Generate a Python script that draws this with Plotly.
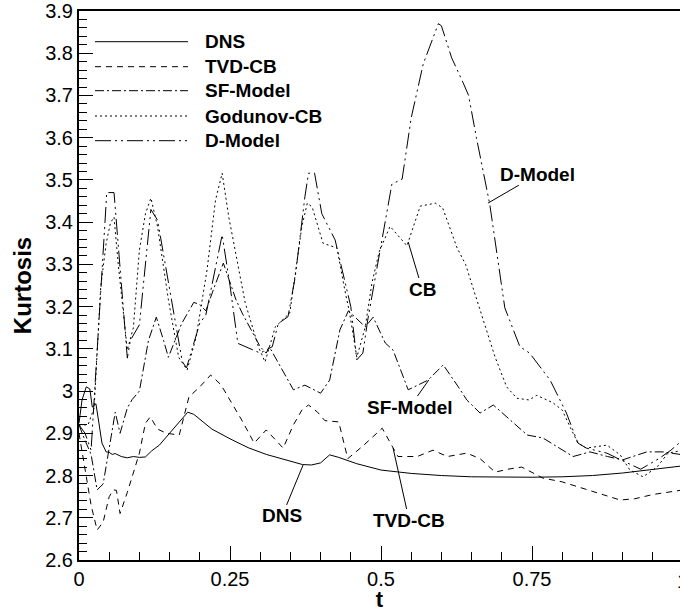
import plotly.graph_objects as go

# ---------------- data ----------------
t_dns = [0, 0.005, 0.012, 0.018, 0.022, 0.028, 0.033, 0.038, 0.045, 0.05, 0.055, 0.06, 0.07,
         0.08, 0.09, 0.1, 0.11, 0.12, 0.133, 0.15, 0.165, 0.18, 0.19, 0.22, 0.25, 0.28, 0.31,
         0.34, 0.37, 0.385, 0.4, 0.415, 0.43, 0.46, 0.5, 0.55, 0.6, 0.65, 0.7, 0.75, 0.8,
         0.85, 0.9, 0.95, 1.0]
k_dns = [2.924, 2.979, 3.01, 3.005, 2.962, 2.97, 2.924, 2.877, 2.856, 2.855, 2.85, 2.852, 2.845,
         2.842, 2.845, 2.843, 2.844, 2.858, 2.872, 2.9, 2.925, 2.95, 2.945, 2.91, 2.887, 2.866, 2.85,
         2.838, 2.826, 2.825, 2.83, 2.849, 2.843, 2.828, 2.813, 2.805, 2.8, 2.797, 2.796, 2.796, 2.797,
         2.8, 2.806, 2.814, 2.823]

t_tvd = [0, 0.01, 0.02, 0.03, 0.04, 0.05, 0.057, 0.062, 0.068, 0.08, 0.1, 0.11, 0.118, 0.13,
         0.145, 0.166, 0.182, 0.2, 0.218, 0.235, 0.248, 0.27, 0.29, 0.31, 0.338, 0.355, 0.369,
         0.38, 0.395, 0.407, 0.43, 0.445, 0.47, 0.502, 0.528, 0.56, 0.586, 0.61, 0.642, 0.664,
         0.689, 0.71, 0.733, 0.768, 0.8, 0.835, 0.87, 0.896, 0.92, 0.95, 1.0]
k_tvd = [2.9, 2.82, 2.73, 2.671, 2.69, 2.75, 2.766, 2.765, 2.71, 2.76, 2.853, 2.924, 2.939, 2.91,
         2.9, 2.896, 2.986, 3.01, 3.038, 3.015, 2.983, 2.93, 2.877, 2.908, 2.865, 2.92, 2.955,
         2.967, 2.95, 2.93, 2.927, 2.84, 2.87, 2.912, 2.845, 2.845, 2.86, 2.845, 2.853, 2.84,
         2.808, 2.815, 2.82, 2.794, 2.785, 2.77, 2.755, 2.742, 2.745, 2.755, 2.766]

t_sf = [0, 0.008, 0.02, 0.03, 0.04, 0.05, 0.06, 0.068, 0.08, 0.088, 0.1, 0.115, 0.128, 0.14,
        0.148, 0.17, 0.19, 0.2, 0.21, 0.225, 0.239, 0.26, 0.27, 0.3, 0.31, 0.315, 0.345, 0.355,
        0.374, 0.4, 0.415, 0.432, 0.446, 0.474, 0.487, 0.507, 0.52, 0.545, 0.578, 0.603, 0.628,
        0.642, 0.664, 0.686, 0.742, 0.768, 0.818, 0.846, 0.875, 0.9, 0.94, 0.967, 1.0]
k_sf = [2.92, 2.89, 2.85, 2.766, 2.78, 2.87, 2.95, 2.9, 2.96, 2.98, 3.0, 3.12, 3.175, 3.12,
        3.08, 3.16, 3.21, 3.205, 3.19, 3.25, 3.303, 3.216, 3.185, 3.105, 3.09, 3.105, 3.026, 3.003,
        3.014, 2.995, 3.026, 3.145, 3.19, 3.152, 3.175, 3.114, 3.097, 3.003, 3.026, 3.062, 3.01,
        2.979, 2.948, 2.967, 2.896, 2.889, 2.845, 2.856, 2.845, 2.837, 2.856, 2.856, 2.849]

t_god = [0, 0.015, 0.025, 0.03, 0.036, 0.045, 0.052, 0.058, 0.065, 0.08, 0.09, 0.1, 0.11, 0.119,
         0.13, 0.148, 0.165, 0.179, 0.194, 0.212, 0.226, 0.237, 0.248, 0.275, 0.297, 0.308, 0.325,
         0.349, 0.369, 0.378, 0.386, 0.404, 0.427, 0.44, 0.448, 0.46, 0.474, 0.485, 0.497, 0.515,
         0.543, 0.565, 0.59, 0.602, 0.626, 0.64, 0.656, 0.669, 0.689, 0.708, 0.725, 0.745, 0.758,
         0.785, 0.8, 0.813, 0.826, 0.84, 0.874, 0.896, 0.912, 0.934, 0.957, 0.975, 1.0]
k_god = [2.92, 2.92, 2.96, 3.1, 3.247, 3.35, 3.398, 3.412, 3.3, 3.097, 3.15, 3.334, 3.42, 3.457,
         3.39, 3.216, 3.08, 3.05, 3.128, 3.287, 3.452, 3.516, 3.412, 3.21, 3.105, 3.069, 3.152,
         3.185, 3.39, 3.445, 3.436, 3.35, 3.339, 3.24, 3.185, 3.08, 3.152, 3.256, 3.33, 3.39,
         3.344, 3.438, 3.445, 3.434, 3.339, 3.3, 3.23, 3.168, 3.08, 3.01, 2.983, 2.979, 2.99,
         2.972, 2.955, 2.915, 2.877, 2.865, 2.872, 2.849, 2.813, 2.797, 2.82, 2.853, 2.86]

t_dm = [0, 0.01, 0.02, 0.03, 0.046, 0.058, 0.062, 0.08, 0.085, 0.1, 0.119, 0.13, 0.171, 0.178,
        0.2, 0.21, 0.237, 0.25, 0.263, 0.3, 0.32, 0.33, 0.346, 0.358, 0.374, 0.38, 0.39, 0.402,
        0.424, 0.45, 0.46, 0.47, 0.478, 0.498, 0.518, 0.535, 0.55, 0.57, 0.595, 0.6, 0.617, 0.636,
        0.645, 0.658, 0.68, 0.705, 0.73, 0.746, 0.78, 0.807, 0.826, 0.84, 0.874, 0.9, 0.93, 0.96,
        0.98, 1.0]
k_dm = [2.92, 2.9, 2.86, 3.1, 3.47, 3.47, 3.4, 3.078, 3.12, 3.157, 3.43, 3.405, 3.07, 3.055,
        3.161, 3.18, 3.37, 3.25, 3.113, 3.09, 3.105, 3.16, 3.176, 3.27, 3.46, 3.516, 3.516, 3.42,
        3.358, 3.2, 3.074, 3.09, 3.168, 3.332, 3.49, 3.502, 3.647, 3.775, 3.87, 3.865, 3.789, 3.73,
        3.7, 3.6, 3.443, 3.197, 3.105, 3.09, 3.026, 2.948, 2.877, 2.865, 2.853, 2.835, 2.815, 2.84,
        2.86, 2.885]

series_names = ["DNS", "TVD-CB", "SF-Model", "Godunov-CB", "D-Model"]
series_t = [t_dns, t_tvd, t_sf, t_god, t_dm]
series_k = [k_dns, k_tvd, k_sf, k_god, k_dm]

x_ticks = [0, 0.25, 0.5, 0.75, 1]
y_ticks = [round(2.6 + 0.1 * i, 1) for i in range(14)]

# label annotations: text, t, K of the curve point
label_text = ["D-Model", "CB", "SF-Model", "TVD-CB", "DNS"]
label_t = [0.677, 0.545, 0.579, 0.52, 0.371]
label_k = [3.445, 3.353, 3.026, 2.865, 2.825]

# ---------------- styles ----------------
dashes = ["solid", "6px,5px", "9px,3px,2px,3px", "2px,3px", "16px,4px,2px,4px,2px,4px"]
label_ax = [50, 14, -19, 16, -21]
label_ay = [-29, 47, 27, 72, 51]

FONT = "Liberation Sans, Arial, sans-serif"
W, H = 680, 612
ML, MR, MT, MB = 79, 0, 11, 52
PW, PH = W - ML - MR, H - MT - MB
T_PER_PX = 1.0 / 604.0


def px(xp):
    return (xp - ML) / PW


def py(yp):
    return (H - MB - yp) / PH


fig = go.Figure()
for name, t, k, d in zip(series_names, series_t, series_k, dashes):
    fig.add_trace(go.Scatter(x=t, y=k, mode="lines", name=name, showlegend=False,
                             line=dict(color="black", width=1, dash=d)))

shapes = []
annotations = []
legend_rows = [41.7, 66.7, 90.7, 116, 140.7]
for name, d, yrow in zip(series_names, dashes, legend_rows):
    shapes.append(dict(type="line", xref="paper", yref="paper", x0=px(95), x1=px(188),
                       y0=py(yrow), y1=py(yrow), line=dict(color="black", width=1, dash=d)))
    annotations.append(dict(xref="paper", yref="paper", x=px(203), y=py(yrow), text="<b>%s</b>" % name,
                            showarrow=False, xanchor="left", yanchor="middle",
                            font=dict(family=FONT, size=19, color="black")))

for txt, lt, lk, ax, ay in zip(label_text, label_t, label_k, label_ax, label_ay):
    annotations.append(dict(x=lt, y=lk, xref="x", yref="y", text="<b>%s</b>" % txt,
                            showarrow=True, arrowhead=0, arrowwidth=1, arrowcolor="black",
                            ax=ax, ay=ay, standoff=0, borderpad=0,
                            font=dict(family=FONT, size=19, color="black")))

# partially visible "1" tick label at the clipped right edge
annotations.append(dict(xref="paper", yref="paper", x=px(79 + 604 * x_ticks[-1] - 1), y=0,
                        yshift=-8, text=str(x_ticks[-1]), showarrow=False, xanchor="center",
                        yanchor="top", font=dict(family=FONT, size=20, color="black")))

axis_common = dict(showline=True, linecolor="black", linewidth=2, ticks="inside", ticklen=14,
                   tickwidth=1, tickcolor="black", showgrid=False, zeroline=False,
                   tickfont=dict(family=FONT, size=20, color="black"))

fig.update_layout(
    width=W, height=H,
    margin=dict(l=ML, r=MR, t=MT, b=MB, autoexpand=False),
    paper_bgcolor="white", plot_bgcolor="white",
    shapes=shapes, annotations=annotations,
    xaxis=dict(range=[0, PW * T_PER_PX], tickvals=x_ticks[:-1], mirror=True,
               minor=dict(dtick=0.05, tick0=0, ticks="inside", ticklen=8, tickwidth=1, tickcolor="black"),
               title=dict(text="<b>t</b>", font=dict(family=FONT, size=22, color="black"), standoff=2),
               **axis_common),
    yaxis=dict(range=[2.6, 3.9], tickvals=y_ticks, ticktext=[("%g" % v) for v in y_ticks], mirror=False,
               minor=dict(dtick=0.02, tick0=2.6, ticks="inside", ticklen=8, tickwidth=1, tickcolor="black"),
               title=dict(text="<b>Kurtosis</b>", font=dict(family=FONT, size=24, color="black"), standoff=7),
               **axis_common),
)

fig.write_html("out.html")
